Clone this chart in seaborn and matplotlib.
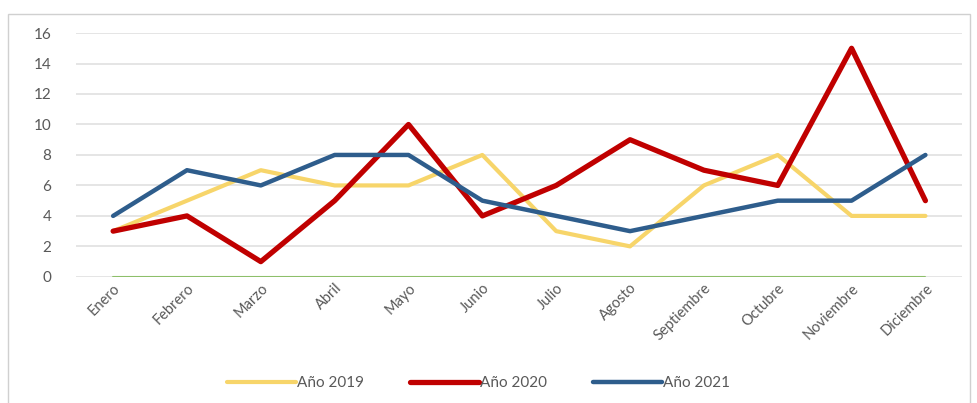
import seaborn as sns
import matplotlib.pyplot as plt
import matplotlib.patches as mpatches
import pandas as pd
import numpy as np

meses = ["Enero", "Febrero", "Marzo", "Abril", "Mayo", "Junio", "Julio",
         "Agosto", "Septiembre", "Octubre", "Noviembre", "Diciembre"]
anio_2019 = [3, 5, 7, 6, 6, 8, 3, 2, 6, 8, 4, 4]
anio_2020 = [3, 4, 1, 5, 10, 4, 6, 9, 7, 6, 15, 5]
anio_2021 = [4, 7, 6, 8, 8, 5, 4, 3, 4, 5, 5, 8]
base = [0] * 12

sns.set_theme(style="white")
plt.rcParams['font.family'] = ['Lato', 'DejaVu Sans']

df = pd.DataFrame({"mes": meses * 3,
                   "valor": anio_2019 + anio_2020 + anio_2021,
                   "serie": ["Año 2019"] * 12 + ["Año 2020"] * 12 + ["Año 2021"] * 12})
colores = {"Año 2019": "#F7D56A", "Año 2020": "#C00000", "Año 2021": "#2E5D8C"}
grosor = {"Año 2019": 3.0, "Año 2020": 3.8, "Año 2021": 3.2}

fig = plt.figure(figsize=(9.77, 4.03), dpi=100)
ax = fig.add_axes([0.078, 0.313, 0.907, 0.605])

sns.lineplot(x=meses, y=base, ax=ax, color="#8DBF6A", linewidth=1.5, legend=False, sort=False)
for s in ["Año 2019", "Año 2020", "Año 2021"]:
    sub = df[df["serie"] == s]
    sns.lineplot(data=sub, x="mes", y="valor", ax=ax, color=colores[s],
                 linewidth=grosor[s], label=s, sort=False)

ax.set_xlim(-0.5, 11.5)
ax.set_ylim(0, 16)
ax.set_yticks(np.arange(0, 17, 2))
ax.yaxis.grid(True, color="#E0E0E0", linewidth=1.2)
ax.set_axisbelow(True)
for sp in ax.spines.values():
    sp.set_visible(False)
ax.set_xlabel("")
ax.set_ylabel("")
ax.tick_params(axis="y", labelsize=11, colors="#595959", length=0, pad=18)
ax.tick_params(axis="x", labelsize=10.5, colors="#595959", length=0, pad=3)
plt.setp(ax.get_xticklabels(), rotation=45, ha="right", rotation_mode="anchor")

ax.get_legend().remove()
handles, labels = ax.get_legend_handles_labels()
fig.legend(handles, labels, loc="center", bbox_to_anchor=(0.49, 0.05), ncol=3, frameon=False,
           fontsize=11, handlelength=4.5, handletextpad=0.1, columnspacing=3.0,
           labelcolor="#595959")

fig.patches.append(mpatches.Rectangle((0.008, -0.05), 0.985, 1.015, transform=fig.transFigure,
                                      fill=False, edgecolor="#D0D0D0", linewidth=1.0))

plt.savefig("out.png", dpi=100)
